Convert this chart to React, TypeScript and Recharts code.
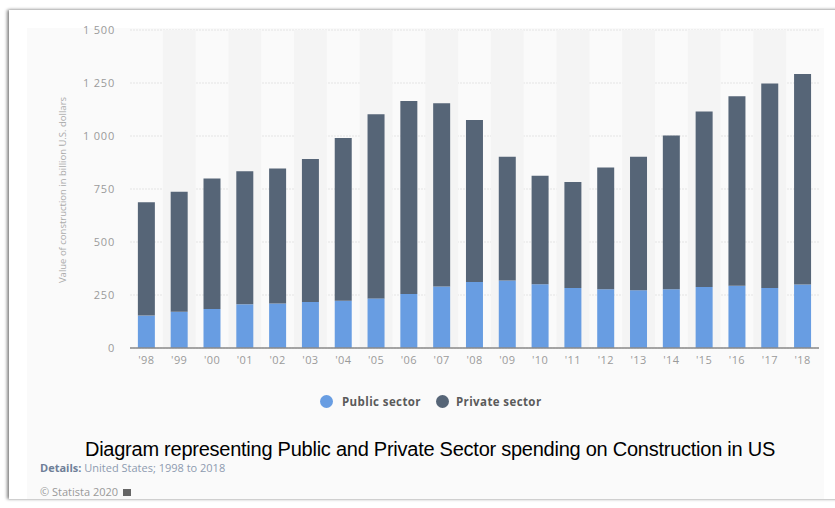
import React from "react";
import { BarChart, Bar, XAxis, YAxis, CartesianGrid, ReferenceArea } from "recharts";

const years = ["'98", "'99", "'00", "'01", "'02", "'03", "'04", "'05", "'06", "'07", "'08", "'09", "'10", "'11", "'12", "'13", "'14", "'15", "'16", "'17", "'18"];
const publicSector = [153, 171, 184, 206, 210, 217, 223, 234, 255, 290, 311, 318, 301, 283, 277, 272, 277, 288, 294, 283, 299];
const privateSector = [535, 566, 616, 628, 637, 674, 768, 869, 910, 865, 764, 584, 511, 500, 574, 630, 725, 827, 893, 965, 994];
const yTicks = [0, 250, 500, 750, 1000, 1250, 1500];
const seriesNames = ["Public sector", "Private sector"];

const PUBLIC_COLOR = "#689de2";
const PRIVATE_COLOR = "#566577";
const FONT = "'Open Sans', 'DejaVu Sans', sans-serif";

const data = years.map((year, i) => ({
  year,
  public: publicSector[i],
  private: privateSector[i],
}));

const fmt = (v: number) => String(v).replace(/\B(?=(\d{3})+(?!\d))/g, " ");

export default function App() {
  return (
    <div style={{ position: "absolute", left: 0, top: 0, width: 835, height: 508, background: "#fff", overflow: "hidden", fontFamily: FONT }}>
      {/* card */}
      <div
        style={{
          position: "absolute",
          left: 9,
          top: 10,
          width: 840,
          height: 489,
          background: "#fff",
          boxShadow: "-2px 0 3px rgba(0,0,0,0.45), 0 -1px 3px rgba(0,0,0,0.12)",
          overflow: "hidden",
        }}
      >
        <div style={{ position: "absolute", left: 18, top: 18, width: 797, height: 480, background: "#fafafa" }} />
      </div>

      <div style={{ position: "absolute", left: 0, top: 0 }}>
        <BarChart width={835} height={380} data={data} margin={{ top: 30, right: 16, left: 20, bottom: 2 }} barCategoryGap="24%">
          {years
            .filter((_, i) => i % 2 === 1)
            .map((y) => (
              <ReferenceArea key={y} x1={y} x2={y} y1={0} y2={1500} fill="#f4f4f4" fillOpacity={1} stroke="none" ifOverflow="visible" />
            ))}
          <CartesianGrid vertical={false} stroke="#e4e4e4" strokeDasharray="2 1" />
          <XAxis
            dataKey="year"
            height={30}
            axisLine={{ stroke: "#8a8a8a", strokeWidth: 1.5 }}
            tickLine={false}
            tickSize={0}
            tickMargin={8}
            interval={0}
            tick={{ fill: "#9a9a9a", fontSize: 11, fontFamily: FONT, letterSpacing: 0.4 }}
          />
          <YAxis
            width={110}
            domain={[0, 1500]}
            ticks={yTicks}
            axisLine={false}
            tickLine={false}
            tickSize={0}
            tickMargin={15}
            tickFormatter={fmt}
            tick={{ fill: "#9a9a9a", fontSize: 11, fontFamily: FONT, letterSpacing: 0.8 }}
          />
          <Bar dataKey="public" name={seriesNames[0]} stackId="a" fill={PUBLIC_COLOR} isAnimationActive={false} />
          <Bar dataKey="private" name={seriesNames[1]} stackId="a" fill={PRIVATE_COLOR} isAnimationActive={false} />
        </BarChart>
      </div>

      {/* y axis title */}
      <div
        style={{
          position: "absolute",
          left: 62,
          top: 190,
          transform: "translate(-50%, -50%) rotate(-90deg)",
          whiteSpace: "nowrap",
          fontSize: 9.5,
          color: "#ababab",
        }}
      >
        Value of construction in billion U.S. dollars
      </div>

      {/* legend */}
      <div style={{ position: "absolute", left: 320, top: 394, display: "flex", alignItems: "center", fontSize: 11.5, fontWeight: 700, color: "#5a5a5a", letterSpacing: 0.4 }}>
        <span style={{ width: 13, height: 13, borderRadius: "50%", background: PUBLIC_COLOR, display: "inline-block", marginRight: 9 }} />
        <span style={{ marginRight: 15 }}>{seriesNames[0]}</span>
        <span style={{ width: 13, height: 13, borderRadius: "50%", background: PRIVATE_COLOR, display: "inline-block", marginRight: 7 }} />
        <span>{seriesNames[1]}</span>
      </div>

      {/* caption */}
      <div style={{ position: "absolute", left: 0, top: 438, width: 860, textAlign: "center", fontFamily: "'Liberation Sans', sans-serif", fontSize: 20, letterSpacing: -0.25, color: "#000", whiteSpace: "nowrap" }}>
        Diagram representing Public and Private Sector spending on Construction in US
      </div>

      {/* details */}
      <div style={{ position: "absolute", left: 40, top: 460, fontSize: 11, color: "#8e9bb0", whiteSpace: "nowrap" }}>
        <b style={{ color: "#6f7f98" }}>Details:</b> United States; 1998 to 2018
      </div>
      <div style={{ position: "absolute", left: 40, top: 484, fontSize: 11, color: "#999", whiteSpace: "nowrap" }}>
        © Statista 2020{" "}
        <span style={{ display: "inline-block", width: 8, height: 7, background: "#666", marginLeft: 2 }} />
      </div>
    </div>
  );
}
